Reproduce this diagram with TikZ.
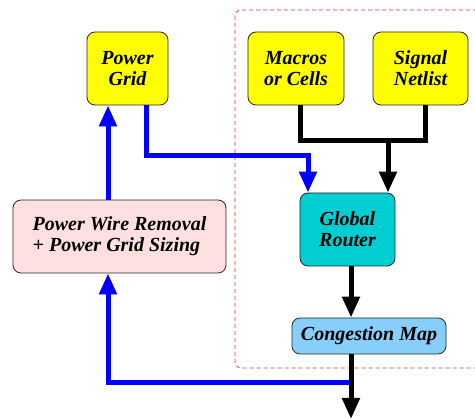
\documentclass[tikz,border=0pt]{standalone}
\usepackage{fontspec}
\setmainfont{Liberation Serif}
\usetikzlibrary{arrows.meta}

\begin{document}
\begin{tikzpicture}[x=1pt,y=-1pt,
  box/.style={draw=black!85,line width=0.8pt,rounded corners=8pt,inner sep=0pt,align=center,
    font=\fontsize{20}{21}\selectfont\bfseries\itshape},
  pwrline/.style={draw=cpwr,line width=5pt,-{Triangle[length=21pt,width=17pt]}},
  sigline/.style={draw=black,line width=5pt,-{Triangle[length=21pt,width=17pt]}}]
\definecolor{cpwr}{RGB}{0,0,255}
\definecolor{cyel}{RGB}{255,255,0}
\definecolor{cpink}{RGB}{255,224,224}
\definecolor{ccyan}{RGB}{0,206,209}
\definecolor{csky}{RGB}{135,206,250}
\definecolor{cframe}{RGB}{220,50,50}
\useasboundingbox (0,0) rectangle (475,419);
\draw[cframe,line width=0.7pt,dash pattern=on 4pt off 3pt,rounded corners=6pt] (235,10) rectangle (495,368);
% boxes
\node[box,fill=cyel,minimum width=81pt,minimum height=73pt] (pgrid) at (127.5,68.5) {Power\\Grid};
\node[box,fill=cyel,minimum width=96pt,minimum height=73pt] (macros) at (296,68.5) {Macros\\or Cells};
\node[box,fill=cyel,minimum width=95pt,minimum height=73pt] (netlist) at (420.5,68.5) {Signal\\Netlist};
\node[box,fill=cpink,minimum width=213pt,minimum height=73pt,align=left] (removal) at (119.5,236.5) {Power Wire Removal\\+ Power Grid Sizing};
\node[box,fill=ccyan,minimum width=95pt,minimum height=73pt] (router) at (347.5,229.5) {Global\\Router};
\node[box,fill=csky,minimum width=154pt,minimum height=36pt] (cmap) at (369,336) {Congestion Map};
% bend points
\coordinate (pa) at (146,156);
\coordinate (pb) at (308,156);
\coordinate (pc) at (108,383);
\coordinate (pd) at (351,383);
\coordinate (ma) at (300,141);
\coordinate (na) at (425,141);
\coordinate (jn) at (388,141);
\coordinate (out) at (351,419);
% power grid loop
\draw[pwrline] (removal.north -| pc) -- (pgrid.south -| pc);
\draw[pwrline] (pgrid.south -| pa) |- (pb) -- (router.north -| pb);
\draw[pwrline] (pd) -| (removal.south -| pc);
% signal flow
\draw[black,line width=5pt] (macros.south -| ma) -- (ma) -- (na) -- (netlist.south -| na);
\draw[sigline] (jn) -- (router.north -| jn);
\draw[sigline] (router.south -| out) -- (cmap.north -| out);
\draw[sigline] (cmap.south -| out) -- (out);
\end{tikzpicture}
\end{document}
